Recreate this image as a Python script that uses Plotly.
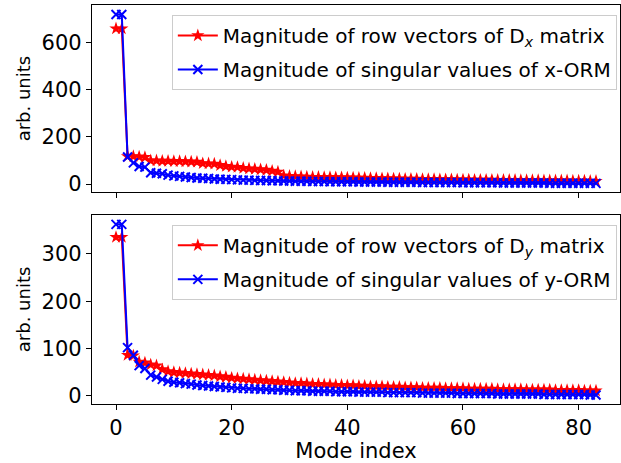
import plotly.graph_objects as go
from plotly.subplots import make_subplots

mode_index = list(range(84))

dx_rows = [660, 660, 118, 118, 116, 114, 100, 100, 98, 98,
           97, 97, 96, 95, 94, 88, 87, 86, 80, 76,
           73, 72, 68, 66, 64, 62, 60, 56, 52, 36,
           34, 33, 32, 31, 30, 30, 29, 29, 28, 28,
           27, 27, 26, 26, 25, 25, 24, 24, 23, 23,
           22, 22, 22, 21, 21, 21, 20, 20, 20, 19,
           19, 19, 18, 18, 18, 18, 17, 17, 17, 17,
           16, 16, 16, 16, 15, 15, 15, 15, 15, 14,
           14, 14, 13, 13]
x_orm_sv = [720, 720, 115, 90, 75, 72, 48, 46, 44, 38,
            35, 33, 30, 28, 26, 25, 24, 22, 21, 20,
            19, 18, 17, 17, 16, 15, 15, 14, 14, 13,
            13, 12, 12, 12, 11, 11, 11, 10, 10, 10,
            10, 10, 9, 9, 9, 9, 9, 8, 8, 8,
            8, 8, 8, 7, 7, 7, 7, 7, 7, 7,
            6, 6, 6, 6, 6, 6, 6, 5, 5, 5,
            5, 5, 5, 5, 5, 4, 4, 4, 4, 4,
            4, 4, 4, 3]
dy_rows = [335, 335, 86, 85, 72, 70, 66, 64, 56, 52,
           50, 49, 48, 47, 46, 45, 44, 43, 41, 40,
           38, 37, 36, 35, 34, 33, 32, 31, 30, 29,
           28, 27, 27, 26, 25, 25, 24, 24, 23, 23,
           22, 22, 21, 21, 20, 20, 20, 19, 19, 19,
           18, 18, 18, 17, 17, 17, 17, 16, 16, 16,
           16, 15, 15, 15, 15, 15, 14, 14, 14, 14,
           14, 13, 13, 13, 13, 13, 12, 12, 12, 12,
           12, 11, 11, 11]
y_orm_sv = [362, 362, 102, 86, 64, 58, 44, 40, 35, 31,
            29, 28, 26, 25, 23, 22, 21, 20, 19, 18,
            17, 16, 16, 15, 15, 14, 14, 13, 13, 12,
            12, 11, 11, 11, 10, 10, 10, 10, 9, 9,
            9, 9, 8, 8, 8, 8, 8, 7, 7, 7,
            7, 7, 7, 6, 6, 6, 6, 6, 6, 5,
            5, 5, 5, 5, 5, 5, 4, 4, 4, 4,
            4, 4, 4, 4, 3, 3, 3, 3, 3, 3,
            3, 3, 2, 2]

x_ticks = [0, 20, 40, 60, 80]
top_ticks = [0, 200, 400, 600]
bottom_ticks = [0, 100, 200, 300]

FONT = "DejaVu Sans"
RED = "#ff0000"
BLUE = "#0000ff"

fig = make_subplots(rows=2, cols=1, shared_xaxes=True, vertical_spacing=0.05)

fig.add_trace(go.Scatter(
    x=mode_index, y=dx_rows, mode="lines+markers",
    name="Magnitude of row vectors of D<sub><i>x</i></sub> matrix",
    line=dict(color=RED, width=2),
    marker=dict(symbol="star", size=10, color=RED, line=dict(width=0)),
    legend="legend", legendgroup="a"), row=1, col=1)
fig.add_trace(go.Scatter(
    x=mode_index, y=x_orm_sv, mode="lines+markers",
    name="Magnitude of singular values of x-ORM",
    line=dict(color=BLUE, width=2),
    marker=dict(symbol="x-thin-open", size=9, color=BLUE, line=dict(width=2, color=BLUE)),
    legend="legend", legendgroup="b"), row=1, col=1)
fig.add_trace(go.Scatter(
    x=mode_index, y=dy_rows, mode="lines+markers",
    name="Magnitude of row vectors of D<sub><i>y</i></sub> matrix",
    line=dict(color=RED, width=2),
    marker=dict(symbol="star", size=10, color=RED, line=dict(width=0)),
    legend="legend2", legendgroup="c"), row=2, col=1)
fig.add_trace(go.Scatter(
    x=mode_index, y=y_orm_sv, mode="lines+markers",
    name="Magnitude of singular values of y-ORM",
    line=dict(color=BLUE, width=2),
    marker=dict(symbol="x-thin-open", size=9, color=BLUE, line=dict(width=2, color=BLUE)),
    legend="legend2", legendgroup="d"), row=2, col=1)

axis_common = dict(showline=True, linecolor="black", linewidth=1.2, mirror=True,
                   ticks="outside", ticklen=5, tickwidth=1.2, tickcolor="black",
                   showgrid=False, zeroline=False,
                   tickfont=dict(family=FONT, size=21, color="black"))

fig.update_xaxes(**axis_common, range=[-4.15, 87.15], tickvals=x_ticks)
fig.update_xaxes(showticklabels=False, row=1, col=1)
fig.update_xaxes(title=dict(text="Mode index", font=dict(family=FONT, size=21, color="black"),
                            standoff=6), row=2, col=1)
fig.update_yaxes(**axis_common)
fig.update_yaxes(range=[-34, 760], tickvals=top_ticks, row=1, col=1,
                 title=dict(text="arb. units", font=dict(family=FONT, size=18, color="black"), standoff=6))
fig.update_yaxes(range=[-17, 382], tickvals=bottom_ticks, row=2, col=1,
                 title=dict(text="arb. units", font=dict(family=FONT, size=18, color="black"), standoff=6))

legend_common = dict(xanchor="right", yanchor="top",
                     bgcolor="rgba(255,255,255,0.8)", bordercolor="#cccccc", borderwidth=1,
                     font=dict(family=FONT, size=20, color="black"),
                     tracegroupgap=5, itemwidth=40)

fig.update_layout(
    width=621, height=463,
    margin=dict(l=92, r=1, t=5, b=59),
    paper_bgcolor="white", plot_bgcolor="white",
    font=dict(family=FONT, color="black"),
    xaxis=dict(domain=[0, 1]),
    yaxis=dict(domain=[0.531, 1.0]),
    yaxis2=dict(domain=[0.0, 0.474]),
    legend=dict(x=0.994, y=0.975, **legend_common),
    legend2=dict(x=0.994, y=0.449, **legend_common),
    showlegend=True,
)

fig.write_html("out.html")
